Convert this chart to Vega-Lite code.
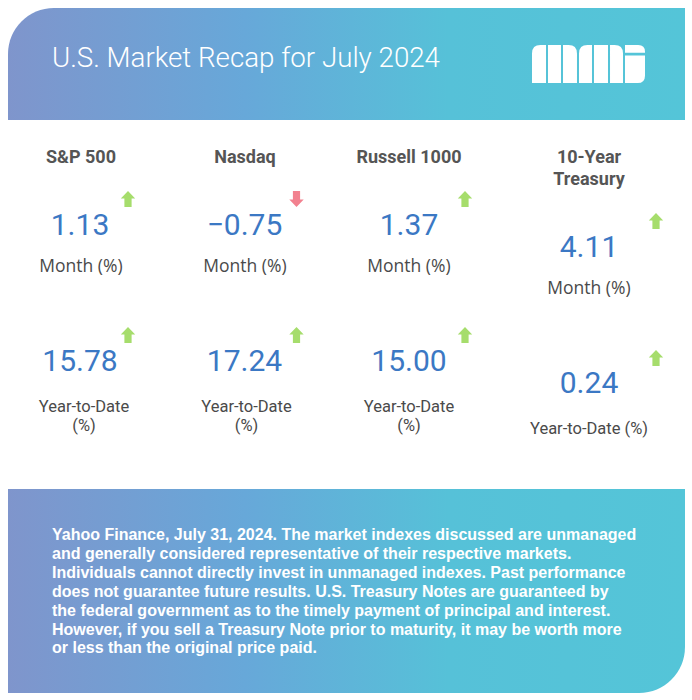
{
  "$schema": "https://vega.github.io/schema/vega-lite/v6.json",
  "width": 692,
  "height": 700,
  "autosize": {"type": "fit", "contains": "padding"},
  "padding": 0,
  "background": "white",
  "config": {
    "view": {"stroke": null},
    "axis": {"disable": true},
    "legend": {"disable": true},
    "text": {"font": "Roboto"}
  },
  "datasets": {
    "stats": [
      {"index": "S&P 500", "metric": "Month", "value": 1.13, "direction": "up", "label": "Month (%)"},
      {"index": "S&P 500", "metric": "Year-to-Date", "value": 15.78, "direction": "up", "label": "Year-to-Date (%)"},
      {"index": "Nasdaq", "metric": "Month", "value": -0.75, "direction": "down", "label": "Month (%)"},
      {"index": "Nasdaq", "metric": "Year-to-Date", "value": 17.24, "direction": "up", "label": "Year-to-Date (%)"},
      {"index": "Russell 1000", "metric": "Month", "value": 1.37, "direction": "up", "label": "Month (%)"},
      {"index": "Russell 1000", "metric": "Year-to-Date", "value": 15.00, "direction": "up", "label": "Year-to-Date (%)"},
      {"index": "10-Year Treasury", "metric": "Month", "value": 4.11, "direction": "up", "label": "Month (%)"},
      {"index": "10-Year Treasury", "metric": "Year-to-Date", "value": 0.24, "direction": "up", "label": "Year-to-Date (%)"}
    ]
  },
  "data": {"name": "stats"},
  "resolve": {"scale": {"x": "independent", "y": "independent", "color": "independent", "shape": "independent"}},
  "layer": [
    {
      "data": {"values": [{"part": "header"}]},
      "mark": {"type": "rect", "cornerRadiusTopLeft": 46,
        "fill": {"gradient": "linear", "x1": 0, "y1": 0, "x2": 1, "y2": 0,
          "stops": [{"offset": 0, "color": "#7f95cc"}, {"offset": 0.35, "color": "#67a8d9"}, {"offset": 0.65, "color": "#56c1d8"}, {"offset": 1, "color": "#54c5d8"}]}},
      "encoding": {
        "x": {"datum": 8, "type": "quantitative", "scale": {"domain": [0, 692], "range": [0, 692], "nice": false, "zero": false}},
        "x2": {"datum": 685},
        "y": {"datum": 8, "type": "quantitative", "scale": {"domain": [0, 700], "range": [0, 700], "nice": false, "zero": false}},
        "y2": {"datum": 120}
      }
    },
    {
      "data": {"values": [{"part": "footer"}]},
      "mark": {"type": "rect", "cornerRadiusBottomRight": 46,
        "fill": {"gradient": "linear", "x1": 0, "y1": 0, "x2": 1, "y2": 0,
          "stops": [{"offset": 0, "color": "#7f95cc"}, {"offset": 0.35, "color": "#67a8d9"}, {"offset": 0.65, "color": "#56c1d8"}, {"offset": 1, "color": "#54c5d8"}]}},
      "encoding": {
        "x": {"datum": 8, "type": "quantitative", "scale": {"domain": [0, 692], "range": [0, 692], "nice": false, "zero": false}},
        "x2": {"datum": 685},
        "y": {"datum": 489, "type": "quantitative", "scale": {"domain": [0, 700], "range": [0, 700], "nice": false, "zero": false}},
        "y2": {"datum": 693}
      }
    },
    {
      "data": {"values": [{"part": "logo"}]},
      "mark": {"type": "point", "filled": true, "fill": "white", "opacity": 1, "strokeWidth": 0, "size": 12769,
        "shape": "M-1,0.336L-1,-0.186Q-1,-0.336,-0.85,-0.336L-0.752,-0.336L-0.752,0.336ZM-0.717,-0.336L-0.487,-0.336L-0.487,0.336L-0.717,0.336ZM-0.451,-0.336L-0.354,-0.336Q-0.204,-0.336,-0.204,-0.186L-0.204,0.336L-0.451,0.336ZM-0.168,0.336L-0.168,-0.186Q-0.168,-0.336,-0.018,-0.336L0.062,-0.336L0.062,0.336ZM0.097,-0.336L0.345,-0.336L0.345,0.336L0.097,0.336ZM0.381,-0.336L0.461,-0.336Q0.611,-0.336,0.611,-0.186L0.611,0.336L0.381,0.336ZM0.646,-0.336L0.88,-0.336Q1,-0.336,1,-0.216L1,-0.2L0.646,-0.2ZM0.646,-0.15L1,-0.15L1,0.206Q1,0.336,0.87,0.336L0.646,0.336Z"},
      "encoding": {
        "x": {"datum": 588.5, "type": "quantitative", "scale": {"domain": [0, 692], "range": [0, 692], "nice": false, "zero": false}},
        "y": {"datum": 64, "type": "quantitative", "scale": {"domain": [0, 700], "range": [0, 700], "nice": false, "zero": false}}
      }
    },
    {
      "data": {"values": [{"part": "title"}]},
      "mark": {"type": "text", "text": "U.S. Market Recap for July 2024", "align": "left", "baseline": "middle", "fontSize": 27.7, "fontWeight": 300, "color": "white"},
      "encoding": {
        "x": {"datum": 52, "type": "quantitative", "scale": {"domain": [0, 692], "range": [0, 692], "nice": false, "zero": false}},
        "y": {"datum": 59, "type": "quantitative", "scale": {"domain": [0, 700], "range": [0, 700], "nice": false, "zero": false}}
      }
    },
    {
      "data": {"values": [{"part": "disclaimer"}]},
      "mark": {"type": "text", "align": "left", "baseline": "middle", "font": "Liberation Sans", "fontSize": 16, "fontWeight": "bold", "color": "white", "lineHeight": 18.9,
        "text": [
          "Yahoo Finance, July 31, 2024. The market indexes discussed are unmanaged",
          "and generally considered representative of their respective markets.",
          "Individuals cannot directly invest in unmanaged indexes. Past performance",
          "does not guarantee future results. U.S. Treasury Notes are guaranteed by",
          "the federal government as to the timely payment of principal and interest.",
          "However, if you sell a Treasury Note prior to maturity, it may be worth more",
          "or less than the original price paid."
        ]},
      "encoding": {
        "x": {"datum": 52, "type": "quantitative", "scale": {"domain": [0, 692], "range": [0, 692], "nice": false, "zero": false}},
        "y": {"datum": 535, "type": "quantitative", "scale": {"domain": [0, 700], "range": [0, 700], "nice": false, "zero": false}}
      }
    },
    {
      "transform": [{"filter": "datum.metric == 'Month' && datum.index != '10-Year Treasury'"}],
      "mark": {"type": "text", "baseline": "middle", "align": "center", "fontSize": 18, "fontWeight": "bold", "color": "#555555", "dy": -68},
      "encoding": {
        "x": {"field": "index", "type": "nominal", "scale": {"type": "point", "domain": ["S&P 500", "Nasdaq", "Russell 1000"], "range": [81, 409], "padding": 0}},
        "y": {"field": "metric", "type": "nominal", "scale": {"type": "point", "domain": ["Month", "Year-to-Date"], "range": [226, 362], "padding": 0}},
        "text": {"field": "index"}
      }
    },
    {
      "transform": [{"filter": "datum.metric == 'Month' && datum.index == '10-Year Treasury'"}],
      "mark": {"type": "text", "baseline": "middle", "align": "center", "fontSize": 18, "fontWeight": "bold", "color": "#555555", "dy": -90, "lineBreak": " ", "lineHeight": 22},
      "encoding": {
        "x": {"field": "index", "type": "nominal", "scale": {"type": "point", "domain": ["10-Year Treasury"], "range": [579, 599], "padding": 0}},
        "y": {"field": "metric", "type": "nominal", "scale": {"type": "point", "domain": ["Month", "Year-to-Date"], "range": [248, 384], "padding": 0}},
        "text": {"field": "index"}
      }
    },
    {
      "transform": [{"filter": "datum.index != '10-Year Treasury'"}],
      "mark": {"type": "text", "baseline": "middle", "align": "center", "fontSize": 30, "color": "#3b78c4"},
      "encoding": {
        "x": {"field": "index", "type": "nominal", "scale": {"type": "point", "domain": ["S&P 500", "Nasdaq", "Russell 1000"], "range": [80, 409], "padding": 0}},
        "y": {"field": "metric", "type": "nominal", "scale": {"type": "point", "domain": ["Month", "Year-to-Date"], "range": [226, 362], "padding": 0}},
        "text": {"field": "value", "type": "quantitative", "format": ".2f"}
      }
    },
    {
      "transform": [{"filter": "datum.index == '10-Year Treasury'"}],
      "mark": {"type": "text", "baseline": "middle", "align": "center", "fontSize": 30, "color": "#3b78c4"},
      "encoding": {
        "x": {"field": "index", "type": "nominal", "scale": {"type": "point", "domain": ["10-Year Treasury"], "range": [579, 599], "padding": 0}},
        "y": {"field": "metric", "type": "nominal", "scale": {"type": "point", "domain": ["Month", "Year-to-Date"], "range": [248, 384], "padding": 0}},
        "text": {"field": "value", "type": "quantitative", "format": ".2f"}
      }
    },
    {
      "transform": [{"filter": "datum.metric == 'Month' && datum.index != '10-Year Treasury'"}],
      "mark": {"type": "text", "baseline": "middle", "align": "center", "font": "Open Sans", "fontSize": 17.5, "color": "#4a4a4a", "dy": 41},
      "encoding": {
        "x": {"field": "index", "type": "nominal", "scale": {"type": "point", "domain": ["S&P 500", "Nasdaq", "Russell 1000"], "range": [81, 409], "padding": 0}},
        "y": {"field": "metric", "type": "nominal", "scale": {"type": "point", "domain": ["Month", "Year-to-Date"], "range": [226, 362], "padding": 0}},
        "text": {"field": "label"}
      }
    },
    {
      "transform": [{"filter": "datum.metric == 'Year-to-Date' && datum.index != '10-Year Treasury'"}],
      "mark": {"type": "text", "baseline": "middle", "align": "center", "fontSize": 16.5, "color": "#4a4a4a", "dy": 45, "lineBreak": " ", "lineHeight": 19},
      "encoding": {
        "x": {"field": "index", "type": "nominal", "scale": {"type": "point", "domain": ["S&P 500", "Nasdaq", "Russell 1000"], "range": [84, 409], "padding": 0}},
        "y": {"field": "metric", "type": "nominal", "scale": {"type": "point", "domain": ["Month", "Year-to-Date"], "range": [226, 362], "padding": 0}},
        "text": {"field": "label"}
      }
    },
    {
      "transform": [{"filter": "datum.index == '10-Year Treasury' && datum.metric == 'Month'"}],
      "mark": {"type": "text", "baseline": "middle", "align": "center", "font": "Open Sans", "fontSize": 17.5, "color": "#4a4a4a", "dy": 41},
      "encoding": {
        "x": {"field": "index", "type": "nominal", "scale": {"type": "point", "domain": ["10-Year Treasury"], "range": [579, 599], "padding": 0}},
        "y": {"field": "metric", "type": "nominal", "scale": {"type": "point", "domain": ["Month", "Year-to-Date"], "range": [248, 384], "padding": 0}},
        "text": {"field": "label"}
      }
    },
    {
      "transform": [{"filter": "datum.index == '10-Year Treasury' && datum.metric == 'Year-to-Date'"}],
      "mark": {"type": "text", "baseline": "middle", "align": "center", "fontSize": 16.5, "color": "#4a4a4a", "dy": 45},
      "encoding": {
        "x": {"field": "index", "type": "nominal", "scale": {"type": "point", "domain": ["10-Year Treasury"], "range": [579, 599], "padding": 0}},
        "y": {"field": "metric", "type": "nominal", "scale": {"type": "point", "domain": ["Month", "Year-to-Date"], "range": [248, 384], "padding": 0}},
        "text": {"field": "label"}
      }
    },
    {
      "transform": [{"filter": "datum.index != '10-Year Treasury'"}],
      "mark": {"type": "point", "filled": true, "opacity": 1, "size": 400, "strokeWidth": 0},
      "encoding": {
        "x": {"field": "index", "type": "nominal", "scale": {"type": "point", "domain": ["S&P 500", "Nasdaq", "Russell 1000"], "range": [128, 465], "padding": 0}},
        "y": {"field": "metric", "type": "nominal", "scale": {"type": "point", "domain": ["Month", "Year-to-Date"], "range": [199, 335], "padding": 0}},
        "shape": {"field": "direction", "type": "nominal", "scale": {"domain": ["up", "down"], "range": ["M0,-0.8L0.72,-0.05L0.36,-0.05L0.36,0.8L-0.36,0.8L-0.36,-0.05L-0.72,-0.05Z", "M0,0.8L0.72,0.05L0.36,0.05L0.36,-0.8L-0.36,-0.8L-0.36,0.05L-0.72,0.05Z"]}},
        "color": {"field": "direction", "type": "nominal", "scale": {"domain": ["up", "down"], "range": ["#a6dd6c", "#f2818f"]}}
      }
    },
    {
      "transform": [{"filter": "datum.index == '10-Year Treasury'"}],
      "mark": {"type": "point", "filled": true, "opacity": 1, "size": 400, "strokeWidth": 0},
      "encoding": {
        "x": {"field": "index", "type": "nominal", "scale": {"type": "point", "domain": ["10-Year Treasury"], "range": [646, 666], "padding": 0}},
        "y": {"field": "metric", "type": "nominal", "scale": {"type": "point", "domain": ["Month", "Year-to-Date"], "range": [221, 358], "padding": 0}},
        "shape": {"field": "direction", "type": "nominal", "scale": {"domain": ["up", "down"], "range": ["M0,-0.8L0.72,-0.05L0.36,-0.05L0.36,0.8L-0.36,0.8L-0.36,-0.05L-0.72,-0.05Z", "M0,0.8L0.72,0.05L0.36,0.05L0.36,-0.8L-0.36,-0.8L-0.36,0.05L-0.72,0.05Z"]}},
        "color": {"field": "direction", "type": "nominal", "scale": {"domain": ["up", "down"], "range": ["#a6dd6c", "#f2818f"]}}
      }
    }
  ]
}
